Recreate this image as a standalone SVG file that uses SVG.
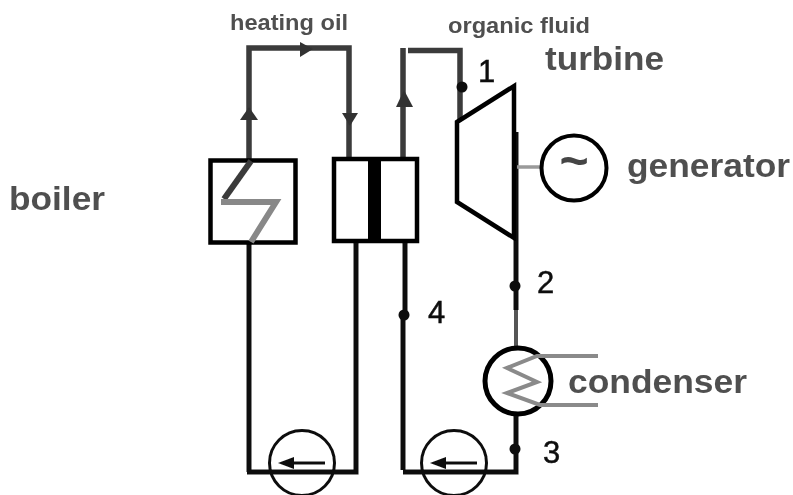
<svg xmlns="http://www.w3.org/2000/svg" width="793" height="495" viewBox="0 0 793 495">
<style>
.l{fill:none;stroke:#3a3a3a;stroke-width:5.5}
.k{fill:none;stroke:#111;stroke-width:5}
.g{fill:none;stroke:#8a8a8a;stroke-width:4}
.b{fill:#fff;stroke:#000;stroke-width:4.5}
.a{fill:#333}
.d{fill:#111}
.p{fill:none;stroke:#111;stroke-width:3}
text{font-family:"Liberation Sans",Arial,sans-serif;font-weight:bold;fill:#505050}
.n{fill:#111;font-weight:normal;font-size:31px;stroke:#111;stroke-width:.5}
.m{font-size:32.500px}
.s{font-size:22px}
</style>
<defs><filter id="soft" x="0" y="0" width="100%" height="100%"><feGaussianBlur stdDeviation="0.45"/></filter></defs>
<rect width="793" height="495" fill="#fff"/>
<g filter="url(#soft)">
<g id="connectors">
<path class="l" d="M249 160V48H349V160"/>
<path class="l" d="M403 158V48M408 50.5H460V120"/>
<polygon class="a" points="300,42 313,49 300,57"/>
<polygon class="a" points="249,107 240,120 258,120"/>
<polygon class="a" points="342,113 358,113 350,126"/>
<polygon class="a" points="404,90 396,107 413,107"/>
<path class="k" d="M249 243V472M356 236V472H247M403 470V316M405 316V236M403 472H516V416"/>
<path class="k" d="M516 132V310"/>
<path fill="none" stroke="#555" stroke-width="4" d="M516 310V348"/>
<path fill="none" stroke="#9a9a9a" stroke-width="3.5" d="M517 167H541"/>
<circle class="d" cx="462" cy="87" r="5.5"/>
<circle class="d" cx="515" cy="286" r="5.5"/>
<circle class="d" cx="404" cy="315" r="5.5"/>
<circle class="d" cx="515" cy="449" r="5.5"/>
</g>
<g id="boiler">
<rect class="b" x="210.500" y="160.500" width="85" height="82"/>
<path fill="none" stroke="#3a3a3a" stroke-width="6" d="M251 161L224 199"/>
<path fill="none" stroke="#888" stroke-width="6" d="M221 202H276L251 242"/>
<text class="m" x="9" y="210" textLength="96" lengthAdjust="spacingAndGlyphs">boiler</text>
</g>
<g id="heat-exchanger">
<rect class="b" x="334" y="159" width="83" height="82"/>
<rect x="368" y="159" width="13" height="82" fill="#000"/>
</g>
<g id="turbine">
<polygon class="b" points="457,122 514,86 514,238 457,202"/>
<text class="m" x="545" y="70" textLength="119" lengthAdjust="spacingAndGlyphs">turbine</text>
</g>
<g id="generator">
<circle cx="574" cy="168" r="32.500" fill="#fff" stroke="#000" stroke-width="4"/>
<text x="574" y="178" text-anchor="middle" style="font-size:50px;fill:#444">~</text>
<text class="m" x="627" y="177" textLength="163" lengthAdjust="spacingAndGlyphs">generator</text>
</g>
<g id="condenser">
<circle cx="518" cy="381" r="33" fill="#fff" stroke="#000" stroke-width="5"/>
<path class="g" d="M598 356H537L507 368L537 382L507 393L540 405H598"/>
<text class="m" x="568" y="393" textLength="179" lengthAdjust="spacingAndGlyphs">condenser</text>
</g>
<g id="pump-oil">
<circle class="p" cx="302" cy="463" r="32.500"/>
<path d="M284 463H325" stroke="#111" stroke-width="3"/>
<polygon points="278,463 294,457 294,469" fill="#111"/>
</g>
<g id="pump-fluid">
<circle class="p" cx="454" cy="463" r="32.500"/>
<path d="M436 463H477" stroke="#111" stroke-width="3"/>
<polygon points="430,463 446,457 446,469" fill="#111"/>
</g>
<g id="labels">
<text class="s" x="230" y="30" textLength="118" lengthAdjust="spacingAndGlyphs">heating oil</text>
<text class="s" x="448" y="33" textLength="142" lengthAdjust="spacingAndGlyphs">organic fluid</text>
<text class="n" x="478" y="82">1</text>
<text class="n" x="537" y="293">2</text>
<text class="n" x="543" y="463">3</text>
<text class="n" x="428" y="323">4</text>
</g>
</g>
</svg>
